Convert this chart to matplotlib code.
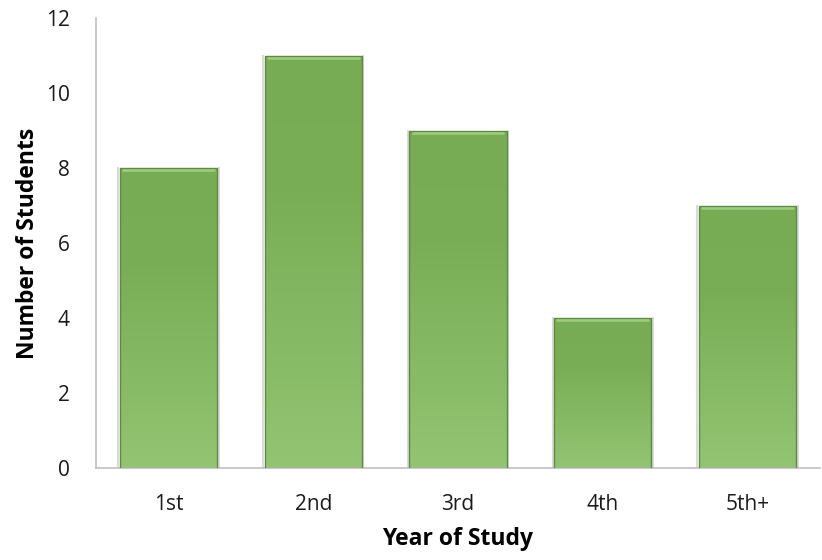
import matplotlib
matplotlib.use("Agg")
import matplotlib.pyplot as plt
import numpy as np
from matplotlib.colors import LinearSegmentedColormap

years = ["1st", "2nd", "3rd", "4th", "5th+"]
students = [8, 11, 9, 4, 7]

plt.rcParams['font.family'] = ['Open Sans', 'DejaVu Sans']

fig = plt.figure(figsize=(8.22, 5.60), dpi=100)
ax = fig.add_axes([96/822, 92/560, 724/822, 450/560])

x = np.arange(len(years))
width = 0.67
bars = ax.bar(x, students, width=width, color='none', edgecolor='#5E8A42', linewidth=1.0, zorder=3)

# vertical gradient inside each bar (lighter towards the bottom)
cmap = LinearSegmentedColormap.from_list("g", ["#93C472", "#86B964", "#79AE56", "#77AC54"])
grad = np.linspace(0, 1, 256).reshape(-1, 1)
for b in bars:
    x0, h = b.get_x(), b.get_height()
    im = ax.imshow(grad, cmap=cmap, aspect='auto', origin='lower',
                   extent=[x0, x0 + width, 0, h], zorder=2)
    im.set_clip_path(b)
    # light bevel along the top
    ax.plot([x0 + 0.015, x0 + width - 0.015], [h - 0.06, h - 0.06], color='#9ECD7E', lw=1.8, zorder=3,
            solid_capstyle='butt')
    # soft shadow on the sides
    for dx in (-0.012, width + 0.012):
        ax.plot([x0 + dx, x0 + dx], [0, h], color='#DADADA', lw=1.5, zorder=1)

ax.set_xlim(-0.5, len(years) - 0.5)
ax.set_ylim(0, 12)
ax.set_yticks(range(0, 13, 2))
ax.set_xticks(x)
ax.set_xticklabels(years)

for s in ['top', 'right']:
    ax.spines[s].set_visible(False)
for s in ['left', 'bottom']:
    ax.spines[s].set_color('#BFBFBF')
    ax.spines[s].set_linewidth(1.2)
ax.tick_params(axis='both', length=0, labelsize=15, colors='#1a1a1a')
ax.tick_params(axis='y', pad=19)
ax.tick_params(axis='x', pad=19)

ax.set_ylabel("Number of Students", fontsize=16.5, fontweight='bold')
ax.set_xlabel("Year of Study", fontsize=16.5, fontweight='bold')
ax.yaxis.set_label_coords(-0.077, 0.5)
ax.xaxis.set_label_coords(0.5, -0.131)

fig.savefig("out.png", dpi=100)
